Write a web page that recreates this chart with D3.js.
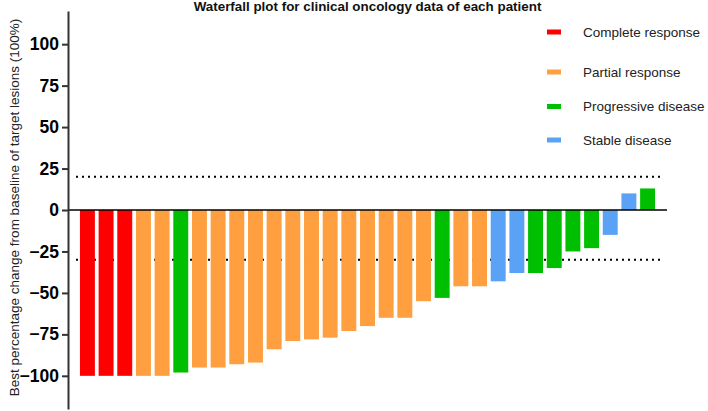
<!DOCTYPE html>
<html>
<head>
<meta charset="utf-8">
<script src="https://cdn.jsdelivr.net/npm/d3@7"></script>
<style>
  html, body { margin: 0; padding: 0; background: #fff; }
  svg { display: block; font-family: "Liberation Sans", Arial, sans-serif; }
</style>
</head>
<body>
<svg id="chart" width="708" height="411"></svg>
<script>
// ---- data ----
const patients = d3.range(1, 32).map(i => "P" + i);
const responses = [
  "Complete response","Complete response","Complete response",
  "Partial response","Partial response","Progressive disease",
  "Partial response","Partial response","Partial response","Partial response",
  "Partial response","Partial response","Partial response","Partial response",
  "Partial response","Partial response","Partial response","Partial response",
  "Partial response","Progressive disease","Partial response","Partial response",
  "Stable disease","Stable disease","Progressive disease","Progressive disease",
  "Progressive disease","Progressive disease","Stable disease","Stable disease",
  "Progressive disease"
];
const changes = [
  -100, -100, -100, -100, -100, -98, -95, -95, -93, -92,
  -84, -79, -78, -77, -73, -70, -65, -65, -55, -53,
  -46, -46, -43, -38, -38, -35, -25, -23, -15, 10, 13
];
const categories = ["Complete response", "Partial response", "Progressive disease", "Stable disease"];
const categoryColors = ["#ff0000", "#ff9f40", "#00bf00", "#5aa2f5"];
const yTicks = [-100, -75, -50, -25, 0, 25, 50, 75, 100];
const thresholds = [20, -30];
const titleText = "Waterfall plot for clinical oncology data of each patient";
const yLabel = "Best percentage change from baseline of target lesions (100%)";

// ---- layout ----
const svg = d3.select("#chart");
const x = d3.scaleBand().domain(patients).range([68, 667]).paddingInner(0.2).paddingOuter(0.64);
const y = d3.scaleLinear().domain([-120, 120]).range([409, 11]);
const color = d3.scaleOrdinal().domain(categories).range(categoryColors);

// title
svg.append("text")
  .attr("x", 367.5).attr("y", 11)
  .attr("text-anchor", "middle")
  .attr("font-weight", "bold")
  .attr("font-size", 13.4)
  .attr("fill", "#111")
  .text(titleText);

// y label
svg.append("text")
  .attr("transform", `translate(18.5,${207.5}) rotate(-90)`)
  .attr("text-anchor", "middle")
  .attr("font-size", 13.5)
  .attr("fill", "#222")
  .text(yLabel);

// threshold dotted lines (behind bars)
svg.append("g").selectAll("line").data(thresholds).join("line")
  .attr("x1", 76).attr("x2", 663)
  .attr("y1", d => y(d)).attr("y2", d => y(d))
  .attr("stroke", "#000")
  .attr("stroke-width", 2)
  .attr("stroke-dasharray", "2,4");

// bars
svg.append("g").selectAll("rect").data(changes).join("rect")
  .attr("x", (d, i) => x(patients[i]))
  .attr("width", x.bandwidth())
  .attr("y", d => y(Math.max(0, d)))
  .attr("height", d => Math.abs(y(d) - y(0)))
  .attr("fill", (d, i) => color(responses[i]));

// zero line
svg.append("line")
  .attr("x1", 68).attr("x2", 667)
  .attr("y1", y(0)).attr("y2", y(0))
  .attr("stroke", "#000").attr("stroke-width", 1.5);

// y axis
const yAxis = svg.append("g")
  .attr("transform", "translate(68,0)")
  .call(d3.axisLeft(y).tickValues(yTicks).tickSize(6).tickPadding(3).tickSizeOuter(0));
yAxis.select(".domain").attr("stroke", "#333").attr("stroke-width", 2);
yAxis.selectAll(".tick line").attr("stroke", "#333").attr("stroke-width", 2);
yAxis.selectAll(".tick text")
  .attr("font-family", "'Liberation Sans', Arial, sans-serif")
  .attr("font-size", 17.5)
  .attr("font-weight", "bold")
  .attr("fill", "#000");

// legend
const legendY = [32, 72, 106.5, 140];
const legend = svg.append("g").selectAll("g").data(categories).join("g")
  .attr("transform", (d, i) => `translate(547,${legendY[i]})`);
legend.append("rect")
  .attr("x", 0).attr("y", -2.5).attr("width", 14).attr("height", 5)
  .attr("fill", d => color(d));
legend.append("text")
  .attr("x", 36).attr("y", 0)
  .attr("dy", "0.35em")
  .attr("font-size", 13.5)
  .attr("fill", "#222")
  .text(d => d);
</script>
</body>
</html>
